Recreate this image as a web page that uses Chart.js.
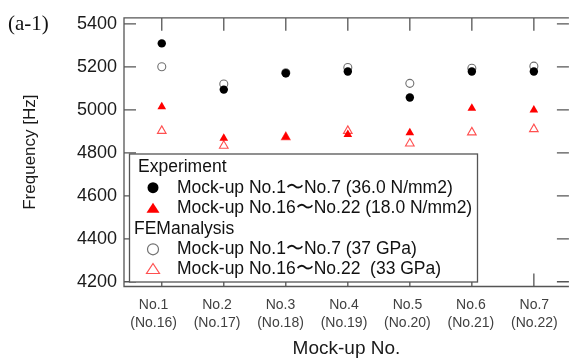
<!DOCTYPE html>
<html>
<head>
<meta charset="utf-8">
<script src="https://cdn.jsdelivr.net/npm/chart.js@4.4.1/dist/chart.umd.min.js"></script>
<style>
  html, body { margin: 0; padding: 0; background: #fff; }
  #wrap { position: relative; width: 575px; height: 360px; }
  #tag { position: absolute; left: 8px; top: 11px; line-height: 20px; font: 21px "Liberation Serif", "Times New Roman", serif; color: #111; }
</style>
</head>
<body>
<div id="wrap">
  <canvas id="chartFreq"></canvas>
  <div id="tag">(a-1)</div>
</div>
<script>
// =========================
// DATA
// =========================
const mockups = [1, 2, 3, 4, 5, 6, 7];
const xLabels = [
  ["No.1", "(No.16)"], ["No.2", "(No.17)"], ["No.3", "(No.18)"], ["No.4", "(No.19)"],
  ["No.5", "(No.20)"], ["No.6", "(No.21)"], ["No.7", "(No.22)"]
];
const yTicks = [4200, 4400, 4600, 4800, 5000, 5200, 5400];

const expHigh = [5309, 5094, 5170, 5178, 5057, 5178, 5178];   // Mock-up No.1~No.7
const expLow  = [5014, 4868, 4873, 4885, 4893, 5007, 4999];   // Mock-up No.16~No.22
const femHigh = [5200, 5120, 5172, 5197, 5123, 5193, 5203];   // FEM 37 GPa
const femLow  = [4902, 4833, 4873, 4902, 4843, 4895, 4910];   // FEM 33 GPa

const legendRows = [
  { heading: "Experiment" },
  { text: "Mock-up No.1\u301CNo.7 (36.0 N/mm2)", shape: "circle", fill: true, color: "#000000" },
  { text: "Mock-up No.16\u301CNo.22 (18.0 N/mm2)", shape: "triangle", fill: true, color: "#ff0000" },
  { heading: "FEManalysis" },
  { text: "Mock-up No.1\u301CNo.7 (37 GPa)", shape: "circle", fill: false, color: "#707070" },
  { text: "Mock-up No.16\u301CNo.22  (33 GPa)", shape: "triangle", fill: false, color: "#ff5050" }
];

const FONT = '"Liberation Sans", Arial, sans-serif';

function toPoints(values) {
  return mockups.map((m, i) => ({ x: m, y: values[i] }));
}

// =========================
// FRAME + INNER TICKS
// =========================
const framePlugin = {
  id: "frame",
  beforeDatasetsDraw(chart) {
    const { ctx, chartArea } = chart;
    const { left, right, top, bottom } = chartArea;
    const xs = chart.scales.x, ys = chart.scales.y;
    ctx.save();
    ctx.strokeStyle = "#555";
    ctx.lineWidth = 1.3;
    ctx.beginPath();
    ctx.moveTo(right, top); ctx.lineTo(left, top);
    ctx.lineTo(left, bottom); ctx.lineTo(right, bottom);
    yTicks.forEach(v => {
      const py = ys.getPixelForValue(v);
      ctx.moveTo(left, py); ctx.lineTo(left + 12, py);
      ctx.moveTo(right, py); ctx.lineTo(right - 12, py);
    });
    mockups.forEach(m => {
      const px = xs.getPixelForValue(m);
      ctx.moveTo(px, top); ctx.lineTo(px, top + 13);
      ctx.moveTo(px, bottom); ctx.lineTo(px, bottom - 13);
    });
    ctx.stroke();
    ctx.restore();
  }
};

// =========================
// LEGEND BOX
// =========================
function drawMarker(ctx, row, x, y) {
  ctx.beginPath();
  if (row.shape === "circle") {
    ctx.arc(x, y, 5.5, 0, Math.PI * 2);
  } else {
    ctx.moveTo(x, y - 5.5);
    ctx.lineTo(x + 6.5, y + 4.5);
    ctx.lineTo(x - 6.5, y + 4.5);
    ctx.closePath();
  }
  if (row.fill) {
    ctx.fillStyle = row.color;
    ctx.fill();
  } else {
    ctx.strokeStyle = row.color;
    ctx.lineWidth = 1.2;
    ctx.stroke();
  }
}

const legendPlugin = {
  id: "boxLegend",
  afterDatasetsDraw(chart) {
    const ctx = chart.ctx;
    ctx.save();
    ctx.fillStyle = "#fff";
    ctx.fillRect(129.5, 154, 348, 128);
    ctx.strokeStyle = "#555";
    ctx.lineWidth = 1.3;
    ctx.strokeRect(129.5, 154, 348, 128);

    const rowY = [166.7, 187.7, 208.3, 229.3, 249.3, 269];
    ctx.font = "17.5px " + FONT;
    ctx.textBaseline = "middle";
    legendRows.forEach((row, i) => {
      ctx.fillStyle = "#111";
      if (row.heading) {
        ctx.fillText(row.heading, i === 0 ? 138 : 134, rowY[i]);
      } else {
        drawMarker(ctx, row, 153, rowY[i]);
        ctx.fillStyle = "#111";
        ctx.fillText(row.text, 177, rowY[i]);
      }
    });
    ctx.restore();
  }
};

// =========================
// CHART
// =========================
new Chart(document.getElementById("chartFreq"), {
  type: "scatter",
  data: {
    datasets: [
      {
        label: "Exp No.1-7", data: toPoints(expHigh),
        pointStyle: "circle", pointRadius: 4.2,
        backgroundColor: "#000", borderColor: "#000", borderWidth: 0
      },
      {
        label: "Exp No.16-22", data: toPoints(expLow),
        pointStyle: "triangle", pointRadius: 5,
        backgroundColor: "#ff0000", borderColor: "#ff0000", borderWidth: 0
      },
      {
        label: "FEM 37 GPa", data: toPoints(femHigh),
        pointStyle: "circle", pointRadius: 4,
        backgroundColor: "rgba(0,0,0,0)", borderColor: "#707070", borderWidth: 1.1
      },
      {
        label: "FEM 33 GPa", data: toPoints(femLow),
        pointStyle: "triangle", pointRadius: 5,
        backgroundColor: "rgba(0,0,0,0)", borderColor: "#ff5050", borderWidth: 1.1
      }
    ]
  },
  options: {
    responsive: true,
    maintainAspectRatio: false,
    animation: false,
    layout: { padding: { top: 8, right: 0, bottom: 0, left: 0 } },
    plugins: {
      legend: { display: false },
      tooltip: { enabled: false }
    },
    scales: {
      x: {
        type: "linear",
        display: false,
        min: 0.391,
        max: 7.565
      },
      xl: {
        type: "linear",
        position: "bottom",
        min: 0.534,
        max: 7.544,
        afterBuildTicks: s => { s.ticks = mockups.map(v => ({ value: v })); },
        afterFit: s => { s.height = 73.5; },
        grid: { display: false, drawTicks: false },
        border: { display: false },
        ticks: {
          autoSkip: false,
          maxRotation: 0,
          padding: 10,
          color: "#404040",
          font: { family: FONT, size: 14, lineHeight: 1.25 },
          callback: v => xLabels[v - 1]
        },
        title: {
          display: true,
          text: "Mock-up No.",
          color: "#1a1a1a",
          font: { family: FONT, size: 19 },
          padding: { top: 0, bottom: 0 }
        }
      },
      y: {
        min: 4178,
        max: 5428,
        afterBuildTicks: s => { s.ticks = yTicks.map(v => ({ value: v })); },
        afterFit: s => { s.width = 124; },
        grid: { display: false, drawTicks: false },
        border: { display: false },
        ticks: {
          padding: 7,
          color: "#1a1a1a",
          font: { family: FONT, size: 18 },
          callback: v => String(v)
        },
        title: {
          display: true,
          text: "Frequency [Hz]",
          color: "#1a1a1a",
          font: { family: FONT, size: 17 },
          padding: { top: 20, bottom: 0 }
        }
      }
    }
  },
  plugins: [framePlugin, legendPlugin]
});
</script>
</body>
</html>
